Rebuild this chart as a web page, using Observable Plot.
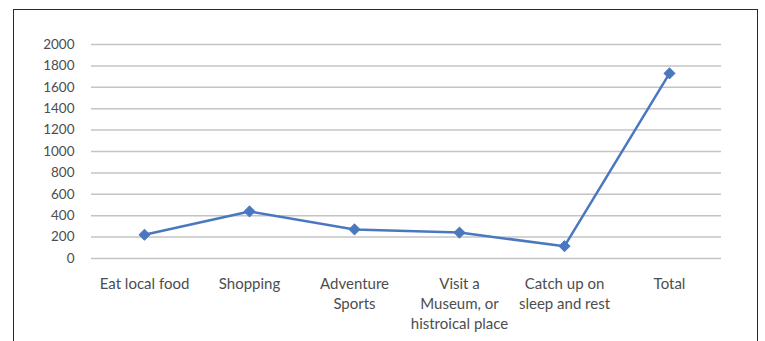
<!DOCTYPE html>
<html>
<head>
<meta charset="utf-8">
<script src="https://cdn.jsdelivr.net/npm/d3@7"></script>
<script src="https://cdn.jsdelivr.net/npm/@observablehq/plot@0.6"></script>
<style>
  html, body { margin: 0; padding: 0; background: #fff; width: 765px; height: 341px; overflow: hidden; }
  #frame { position: absolute; left: 13px; top: 9px; width: 745px; height: 360px; border: 1.5px solid #2b2b2b; box-sizing: border-box; }
  #chart { position: absolute; left: 0; top: 0; }
</style>
</head>
<body>
<div id="frame"></div>
<div id="chart"></div>
<script>
const categories = ["Eat local food", "Shopping", "Adventure\nSports", "Visit a\nMuseum, or\nhistroical place", "Catch up on\nsleep and rest", "Total"];
const values = [222, 440, 272, 242, 115, 1730];
const yTicks = [0, 200, 400, 600, 800, 1000, 1200, 1400, 1600, 1800, 2000];

const data = categories.map((c, i) => ({category: c, value: values[i]}));

const chart = Plot.plot({
  width: 765,
  height: 341,
  marginLeft: 91,
  marginRight: 44,
  marginTop: 44,
  marginBottom: 83,
  style: {fontFamily: "Lato, sans-serif", fontSize: "14px", color: "#4d4d4d", background: "transparent"},
  x: {type: "point", domain: categories, padding: 0.5},
  y: {domain: [0, 2000]},
  marks: [
    Plot.gridY(yTicks, {stroke: "#c4c4c4", strokeOpacity: 1, strokeWidth: 1.5}),
    Plot.axisY(yTicks, {tickSize: 0, tickPadding: 17, label: null, fill: "#4d4d4d", fontSize: 13.5, tickFormat: d => String(d)}),
    Plot.axisX({tickSize: 0, tickPadding: 16, label: null, fill: "#4d4d4d", fontSize: 15, lineHeight: 1.33}),
    Plot.line(data, {x: "category", y: "value", stroke: "#4a78bf", strokeWidth: 2.5}),
    Plot.dot(data, {x: "category", y: "value", symbol: "diamond2", r: 5, fill: "#4a78bf", stroke: "#4a78bf", strokeWidth: 1})
  ]
});
document.getElementById("chart").appendChild(chart);
</script>
</body>
</html>
